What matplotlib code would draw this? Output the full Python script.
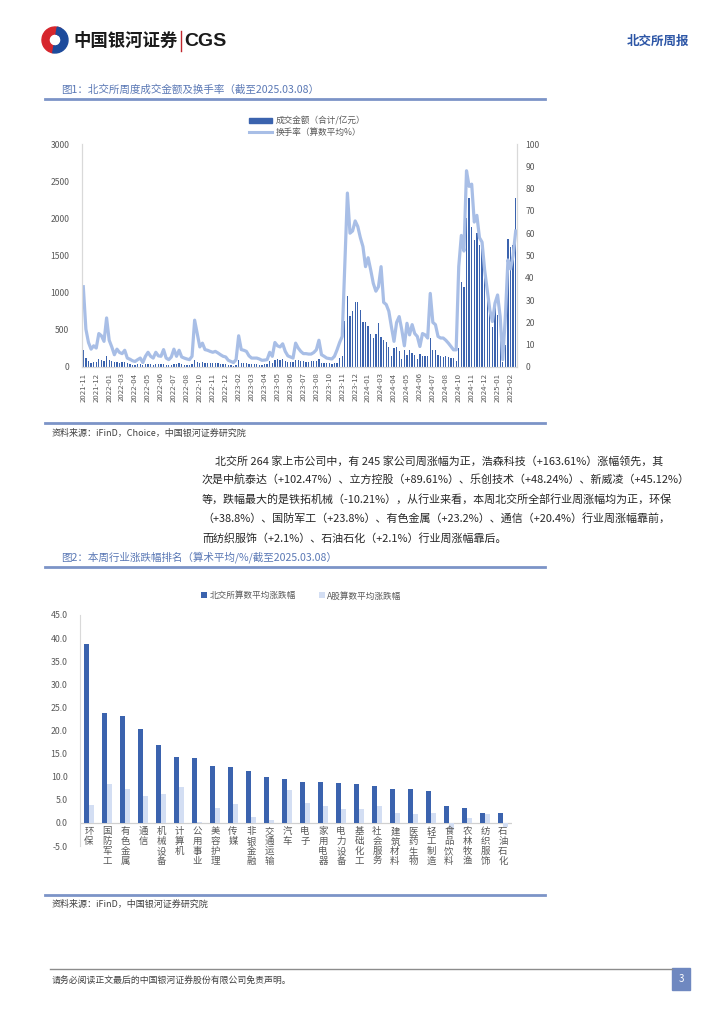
import matplotlib
matplotlib.use('Agg')
import matplotlib.pyplot as plt
from matplotlib.patches import Rectangle, Wedge
from matplotlib.lines import Line2D

plt.rcParams['font.family'] = ['Noto Sans CJK SC', 'DejaVu Sans']

# Data: chart 1 (weekly amount and turnover)
amount = [
    224, 120, 80, 60, 62, 65, 105, 95, 85, 150,
    90, 75, 70, 68, 60, 65, 70, 55, 35, 30,
    32, 35, 38, 25, 40, 45, 35, 32, 40, 35,
    38, 45, 30, 28, 32, 45, 35, 50, 35, 30,
    28, 25, 35, 90, 70, 55, 65, 55, 52, 50,
    55, 48, 50, 45, 40, 38, 30, 22, 20, 30,
    100, 60, 55, 50, 42, 38, 40, 36, 32, 30,
    35, 40, 80, 60, 95, 110, 100, 105, 85, 70,
    65, 68, 100, 95, 85, 75, 70, 72, 78, 80,
    85, 110, 60, 55, 50, 48, 45, 50, 55, 120,
    145, 613, 950, 680, 750, 870, 873, 770, 600, 600,
    555, 448, 390, 448, 590, 403, 358, 331, 269, 152,
    255, 269, 210, 107, 233, 157, 233, 188, 166, 107,
    175, 152, 143, 145, 390, 233, 224, 157, 150, 139,
    145, 139, 118, 118, 81, 251, 1148, 1081, 2000, 2270,
    1880, 1710, 1800, 1640, 1630, 1350, 990, 727, 543, 861,
    700, 420, 67, 300, 1720, 1620, 1640, 2270,
]
turnover = [
    36, 17, 11, 8, 9.5, 8.5, 15, 14, 11.5, 22,
    12, 9, 5.5, 8, 6.5, 6, 7.5, 4, 3.5, 2.8,
    2.5, 3.3, 4, 2, 4.8, 6.6, 4.8, 4, 6.6, 5,
    4.8, 7.8, 4, 3.3, 4.5, 8, 4.8, 7.5, 4.5, 4,
    3.6, 3.3, 4.8, 21, 15, 9, 10.7, 7.8, 7.5, 7,
    6.6, 7, 6.3, 5.5, 4.8, 4.5, 3, 2.5, 2, 3.3,
    14, 7.8, 7.5, 7, 5, 4, 4, 4, 3.6, 3,
    3.1, 3.3, 6.6, 4.8, 11, 9.5, 9, 10.4, 7, 5,
    4.5, 4, 10.7, 8.5, 7, 6, 6, 5.8, 5.8, 6.5,
    7.7, 12, 5.5, 4.8, 4, 3.8, 3.6, 4.8, 7.7, 11,
    13.7, 46, 78, 60, 61, 65.5, 63, 58, 54, 45,
    49, 43.5, 37.5, 34, 36, 45, 29, 28, 25, 18,
    11.5, 20, 22.6, 16.7, 9.5, 19.6, 14.4, 19, 15, 13.7,
    9.2, 15, 14.4, 13, 33, 20, 19, 13.7, 13, 13,
    12, 10.7, 9.2, 7.7, 7.7, 45, 59, 52, 88, 81,
    82, 65, 68, 58, 56, 43.5, 34.5, 25.6, 20.4, 28.6,
    32.3, 22.6, 3.3, 22.6, 48, 44, 50, 61,
]
month_labels = [
    '2021-11', '2021-12', '2022-01', '2022-03', '2022-04', '2022-05', '2022-06',
    '2022-07', '2022-08', '2022-10', '2022-11', '2022-12', '2023-02', '2023-03',
    '2023-04', '2023-05', '2023-06', '2023-07', '2023-08', '2023-10', '2023-11',
    '2023-12', '2024-01', '2024-03', '2024-04', '2024-05', '2024-06', '2024-07',
    '2024-08', '2024-10', '2024-11', '2024-12', '2025-01', '2025-02',
]

# Data: chart 2 (industry weekly change)
industries = ['环保', '国防军工', '有色金属', '通信', '机械设备', '计算机', '公用事业', '美容护理',
              '传媒', '非银金融', '交通运输', '汽车', '电子', '家用电器', '电力设备', '基础化工',
              '社会服务', '建筑材料', '医药生物', '轻工制造', '食品饮料', '农林牧渔', '纺织服饰', '石油石化']
bse_change = [38.8, 23.8, 23.2, 20.4, 16.8, 14.3, 14.1, 12.3, 12.0, 11.2, 10.0, 9.5,
              8.9, 8.8, 8.7, 8.4, 8.0, 7.4, 7.3, 6.9, 3.7, 3.2, 2.1, 2.1]
a_change = [3.9, 8.4, 7.3, 5.8, 6.3, 7.8, 0.2, 3.2, 4.0, 1.3, 0.65, 7.1,
            4.3, 3.7, 3.0, 3.1, 3.7, 2.2, 2.0, 2.2, -1.5, 1.1, 1.9, -0.9]

paragraph = [
    '北交所 264 家上市公司中，有 245 家公司周涨幅为正，浩森科技（+163.61%）涨幅领先，其',
    '次是中航泰达（+102.47%）、立方控股（+89.61%）、乐创技术（+48.24%）、新威凌（+45.12%）',
    '等，跌幅最大的是铁拓机械（-10.21%），从行业来看，本周北交所全部行业周涨幅均为正，环保',
    '（+38.8%）、国防军工（+23.8%）、有色金属（+23.2%）、通信（+20.4%）行业周涨幅靠前，',
    '而纺织服饰（+2.1%）、石油石化（+2.1%）行业周涨幅靠后。',
]

DARK = '#3b63ae'
LIGHT_LINE = '#a8bee6'
LIGHT_BAR = '#d3def3'
TITLE = '#5a78b5'
RULE = '#7c94c7'
GREY = '#595959'

W, H = 724, 1024
fig = plt.figure(figsize=(7.24, 10.24), dpi=100)


def box(x0, y0, x1, y1):
    return [x0 / W, 1 - y1 / H, (x1 - x0) / W, (y1 - y0) / H]


# page layer in pixel coordinates
bg = fig.add_axes([0, 0, 1, 1])
bg.set_xlim(0, W)
bg.set_ylim(H, 0)
bg.axis('off')

# header
bg.add_patch(Wedge((55, 40), 13, 100, 300, width=7, color='#d6262d'))
bg.add_patch(Wedge((55, 40), 13, 280, 460, width=7, color='#1d4b9c'))
bg.text(73, 41, '中国银河证券', fontsize=12.5, fontweight='bold', color='#1a1a1a', va='center')
bg.plot([180.5, 180.5], [31, 51], color='#c0272d', lw=1)
bg.text(184, 41, 'CGS', fontsize=14, fontweight='bold', color='#1a1a1a', va='center',
        family='Liberation Sans')
bg.text(689, 41, '北交所周报', fontsize=9, fontweight='bold', color='#2d56a6', va='center', ha='right')

# figure 1 title
bg.text(61, 89, '图1：北交所周度成交金额及换手率（截至2025.03.08）', fontsize=7.6, color=TITLE, va='center')
bg.plot([45, 545], [99, 99], color=RULE, lw=2)

ax1 = fig.add_axes(box(82, 144, 517, 367))
x = list(range(len(amount)))
ax1.bar(x, amount, width=0.5, color=DARK, zorder=2)
ax1.set_ylim(0, 3000)
ax1.set_yticks(range(0, 3001, 500))
ax1.set_xlim(-0.5, len(amount) - 0.5)
ax1.set_xticks(list(range(0, 5 * len(month_labels), 5)))
ax1.set_xticklabels(month_labels, rotation=90, fontsize=5.6, color=GREY)
ax1.tick_params(axis='both', length=0)
ax1.tick_params(axis='y', labelsize=6.2, labelcolor=GREY, pad=9)
ax1.tick_params(axis='x', pad=4)
ax1r = ax1.twinx()
ax1r.plot(x, turnover, color=LIGHT_LINE, lw=2.3, solid_joinstyle='round')
ax1r.set_ylim(0, 100)
ax1r.set_yticks(range(0, 101, 10))
ax1r.tick_params(axis='y', length=0, labelsize=6.2, labelcolor=GREY, pad=6)
for a in (ax1, ax1r):
    a.spines['top'].set_visible(False)
    for s in ('left', 'right', 'bottom'):
        a.spines[s].set_color('#d9d9d9')

fig.legend(handles=[Rectangle((0, 0), 1, 1, color=DARK),
                    Line2D([0], [0], color=LIGHT_LINE, lw=2.2)],
           labels=['成交金额（合计/亿元）', '换手率（算数平均%）'],
           loc='upper left', bbox_to_anchor=(246 / W, 1 - 113 / H), frameon=False,
           fontsize=6.2, labelcolor=GREY, handlelength=2.6, handleheight=0.6,
           labelspacing=0.25, handletextpad=0.4, borderaxespad=0)

bg.plot([45, 545], [423, 423], color=RULE, lw=2)
bg.text(52, 433, '资料来源：iFinD，Choice，中国银河证券研究院', fontsize=6.5, color='#404040', va='center')

# paragraph
for k, line in enumerate(paragraph):
    x0 = 215 if k == 0 else 202
    bg.text(x0, 461 + k * 19.2, line, fontsize=7.9, color='#262626', va='center')

# figure 2 title
bg.text(61, 557, '图2：本周行业涨跌幅排名（算术平均/%/截至2025.03.08）', fontsize=7.6, color=TITLE, va='center')
bg.plot([45, 545], [567, 567], color=RULE, lw=2)

ax2 = fig.add_axes(box(80, 615, 512, 846))
pos = list(range(len(industries)))
bw = 0.29
ax2.bar([p - bw / 2 for p in pos], bse_change, width=bw, color=DARK, label='北交所算数平均涨跌幅', zorder=2)
ax2.bar([p + bw / 2 for p in pos], a_change, width=bw, color=LIGHT_BAR, label='A股算数平均涨跌幅', zorder=2)
ax2.axhline(0, color='#d0d0d0', lw=0.9, zorder=1)
ax2.set_ylim(-5, 45)
ax2.set_yticks(range(-5, 46, 5))
ax2.set_yticklabels([f'{v:.1f}' for v in range(-5, 46, 5)])
ax2.set_xlim(-0.5, len(industries) - 0.5)
ax2.set_xticks([])
ax2.tick_params(axis='y', length=0, labelsize=6.3, labelcolor=GREY, pad=9)
for s in ('top', 'right', 'bottom'):
    ax2.spines[s].set_visible(False)
ax2.spines['left'].set_color('#d9d9d9')
for p, name in zip(pos, industries):
    ax2.text(p, -0.9, '\n'.join(name), ha='center', va='top', fontsize=6.8,
             color=GREY, linespacing=1.12, clip_on=False)
ax2.legend(loc='upper left', bbox_to_anchor=(198 / W, 1 - 588 / H), bbox_transform=fig.transFigure,
           ncol=2, frameon=False, fontsize=6.2, labelcolor=GREY, handlelength=0.7,
           handleheight=0.7, handletextpad=0.3, columnspacing=2.6, borderaxespad=0)

bg.plot([45, 545], [895, 895], color=RULE, lw=2)
bg.text(52, 904, '资料来源：iFinD，中国银河证券研究院', fontsize=6.5, color='#404040', va='center')

# footer
bg.plot([50, 672], [969, 969], color='#8c8c8c', lw=1)
bg.text(52, 980, '请务必阅读正文最后的中国银河证券股份有限公司免责声明。', fontsize=6.4, color='#404040', va='center')
bg.add_patch(Rectangle((672, 968), 18, 22, color='#6f88c0'))
bg.text(681, 979, '3', color='white', fontsize=7, ha='center', va='center')

fig.savefig('out.png', dpi=100)
